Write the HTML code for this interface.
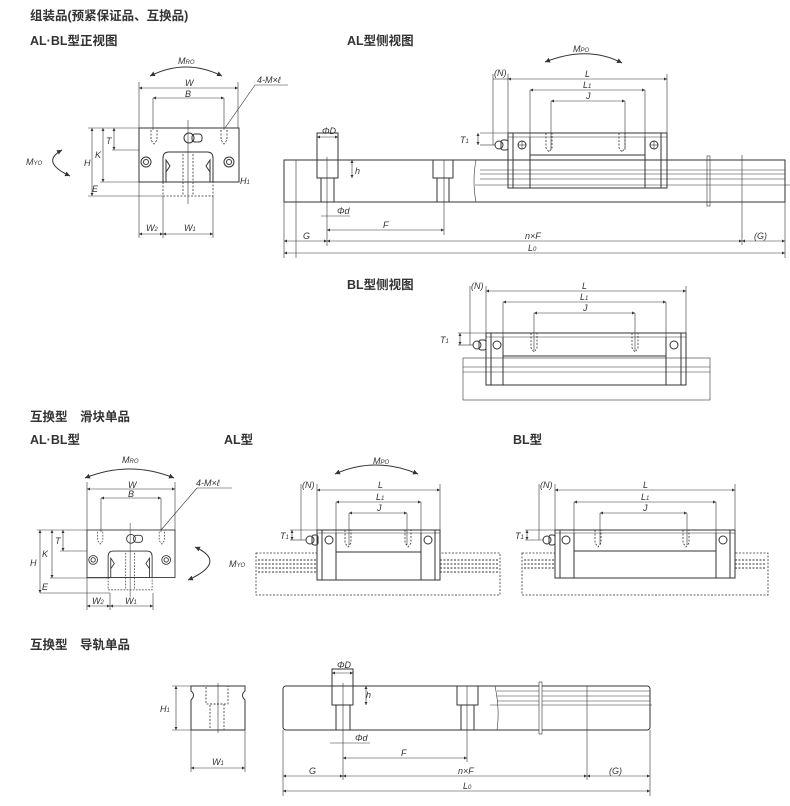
<!DOCTYPE html>
<html><head><meta charset="utf-8"><style>
html,body{margin:0;padding:0;background:#fff;width:790px;height:806px;overflow:hidden}
svg{display:block}
.t{font-family:"Liberation Sans","Noto Sans CJK SC",sans-serif;fill:#333}
.h{font-size:12.5px;font-weight:bold}
.l{font-size:9px;font-style:italic}
line,path,rect,circle,polyline{stroke:#333;fill:none;stroke-width:1}
.th{stroke-width:0.6}
.d{stroke-dasharray:2 1.5;stroke-width:0.8}
</style></head><body>
<svg width="790" height="806" viewBox="0 0 790 806" xmlns="http://www.w3.org/2000/svg">
<defs>
<marker id="a" viewBox="0 0 6 6" refX="6" refY="3" markerWidth="5" markerHeight="5" orient="auto-start-reverse"><path d="M0,0L6,3L0,6z" style="fill:#333;stroke:none"/></marker>
<g id="front">
 <rect x="0" y="0" width="100" height="54"/>
 <path d="M24,54 V30 Q24,24 30,24 H68 Q74,24 74,30 V54"/>
 <path d="M27,54 V32 L31,38 L27,44 M71,54 V32 L67,38 L71,44"/>
 <rect x="24" y="54" width="50" height="14" class="d"/>
 <line x1="44" y1="26" x2="44" y2="68" class="d"/><line x1="54" y1="26" x2="54" y2="68" class="d"/>
 <line x1="49" y1="-8" x2="49" y2="76" class="th"/>
 <circle cx="7" cy="34" r="5"/><circle cx="7" cy="34" r="2.5"/>
 <circle cx="90" cy="34" r="5"/><circle cx="90" cy="34" r="2.5"/>
 <circle cx="50" cy="10" r="5"/><rect x="53" y="6" width="10" height="8" rx="3"/>
 <path d="M12,2 V12 L15,16 L18,12 V2 M82,2 V12 L85,16 L88,12 V2" class="d"/>
</g>
<g id="blk">
 <rect x="0" y="0" width="100" height="55"/>
</g>
</defs>

<!-- headings -->
<text class="t h" x="30" y="20">组装品(预紧保证品、互换品)</text>
<text class="t h" x="30" y="45">AL·BL型正视图</text>
<text class="t h" x="347" y="45">AL型侧视图</text>
<text class="t h" x="347" y="289">BL型侧视图</text>
<text class="t h" x="30" y="421">互换型　滑块单品</text>
<text class="t h" x="30" y="444">AL·BL型</text>
<text class="t h" x="224" y="444">AL型</text>
<text class="t h" x="513" y="444">BL型</text>
<text class="t h" x="30" y="649">互换型　导轨单品</text>

<!-- ===== Front view 1 ===== -->
<use href="#front" x="139" y="128"/>
<path d="M150,76 Q186,58 222,76" marker-start="url(#a)" marker-end="url(#a)"/>
<text class="t l" x="178" y="64">M<tspan font-size="6">RO</tspan></text>
<line x1="139" y1="82" x2="139" y2="128" class="th"/><line x1="238" y1="82" x2="238" y2="128" class="th"/>
<line x1="139" y1="88" x2="238" y2="88" class="th" marker-start="url(#a)" marker-end="url(#a)"/>
<text class="t l" x="185" y="86">W</text>
<line x1="153" y1="98" x2="224" y2="98" class="th" marker-start="url(#a)" marker-end="url(#a)"/>
<line x1="153" y1="98" x2="153" y2="130" class="th"/><line x1="224" y1="98" x2="224" y2="130" class="th"/>
<text class="t l" x="185" y="97">B</text>
<line x1="225" y1="128" x2="255" y2="85" class="th"/><line x1="255" y1="85" x2="288" y2="85" class="th"/>
<text class="t l" x="257" y="83">4-M×ℓ</text>
<line x1="88" y1="128" x2="139" y2="128" class="th"/><line x1="88" y1="196" x2="163" y2="196" class="th"/>
<line x1="100" y1="182" x2="163" y2="182" class="th"/><line x1="112" y1="150" x2="139" y2="150" class="th"/>
<line x1="92" y1="128" x2="92" y2="196" class="th" marker-start="url(#a)" marker-end="url(#a)"/>
<line x1="103" y1="128" x2="103" y2="182" class="th" marker-start="url(#a)" marker-end="url(#a)"/>
<line x1="114" y1="128" x2="114" y2="150" class="th" marker-start="url(#a)" marker-end="url(#a)"/>
<text class="t l" x="84" y="166">H</text><text class="t l" x="95" y="158">K</text><text class="t l" x="106" y="144">T</text><text class="t l" x="92" y="192">E</text>
<text class="t l" x="240" y="184">H<tspan font-size="6">1</tspan></text>
<path d="M62,150 Q40,162 70,176" marker-start="url(#a)" marker-end="url(#a)"/>
<text class="t l" x="26" y="165">M<tspan font-size="6">YO</tspan></text>
<line x1="139" y1="182" x2="139" y2="238" class="th"/><line x1="163" y1="196" x2="163" y2="238" class="th"/><line x1="213" y1="196" x2="213" y2="238" class="th"/>
<line x1="139" y1="234" x2="163" y2="234" class="th" marker-start="url(#a)" marker-end="url(#a)"/>
<line x1="163" y1="234" x2="213" y2="234" class="th" marker-start="url(#a)" marker-end="url(#a)"/>
<text class="t l" x="146" y="231">W<tspan font-size="6">2</tspan></text><text class="t l" x="184" y="231">W<tspan font-size="6">1</tspan></text>

<!-- ===== AL side view (assembled) ===== -->
<rect x="284" y="160" width="501" height="42"/>
<line x1="480" y1="170" x2="785" y2="170" class="th"/><line x1="480" y1="174" x2="785" y2="174" class="th"/><line x1="480" y1="179" x2="785" y2="179" class="th"/>
<line x1="475" y1="185" x2="790" y2="185" class="th"/>
<path d="M476,160 Q472,181 476,202" class="th"/>
<line x1="296" y1="160" x2="296" y2="258" class="th"/>
<rect x="317" y="133" width="21" height="45"/><line x1="321" y1="178" x2="321" y2="202"/><line x1="334" y1="178" x2="334" y2="202"/>
<line x1="327" y1="157" x2="327" y2="246" class="th"/>
<rect x="433" y="160" width="20" height="18"/><line x1="437" y1="178" x2="437" y2="202"/><line x1="449" y1="178" x2="449" y2="202"/>
<line x1="444" y1="160" x2="444" y2="235" class="th"/>
<line x1="317" y1="137" x2="338" y2="137" class="th" marker-start="url(#a)" marker-end="url(#a)"/><text class="t l" x="322" y="134">ΦD</text>
<line x1="352" y1="160" x2="352" y2="178" class="th" marker-start="url(#a)" marker-end="url(#a)"/><text class="t l" x="355" y="174">h</text>
<line x1="321" y1="216" x2="350" y2="216" class="th"/><text class="t l" x="337" y="214">Φd</text>
<line x1="327" y1="230" x2="444" y2="230" class="th" marker-start="url(#a)" marker-end="url(#a)"/><text class="t l" x="383" y="228">F</text>
<line x1="284" y1="241" x2="327" y2="241" class="th" marker-start="url(#a)" marker-end="url(#a)"/><text class="t l" x="303" y="239">G</text>
<line x1="327" y1="241" x2="742" y2="241" class="th" marker-start="url(#a)" marker-end="url(#a)"/><text class="t l" x="525" y="239">n×F</text>
<line x1="742" y1="241" x2="785" y2="241" class="th" marker-start="url(#a)" marker-end="url(#a)"/><text class="t l" x="754" y="239">(G)</text>
<line x1="742" y1="155" x2="742" y2="245" class="th"/><line x1="785" y1="160" x2="785" y2="258" class="th"/><line x1="284" y1="202" x2="284" y2="258" class="th"/>
<line x1="284" y1="253" x2="785" y2="253" class="th" marker-start="url(#a)" marker-end="url(#a)"/><text class="t l" x="528" y="251">L<tspan font-size="6">0</tspan></text>
<rect x="707" y="156" width="3" height="50" class="th"/>
<!-- block -->
<rect x="508" y="133" width="159" height="55"/>
<line x1="513" y1="133" x2="513" y2="188"/><line x1="530" y1="137" x2="530" y2="188"/><line x1="645" y1="137" x2="645" y2="188"/><line x1="661" y1="133" x2="661" y2="188"/>
<line x1="508" y1="137" x2="667" y2="137" class="th"/><line x1="530" y1="155" x2="645" y2="155"/>
<circle cx="522" cy="145" r="4"/><line x1="518" y1="145" x2="526" y2="145" class="th"/><line x1="522" y1="141" x2="522" y2="149" class="th"/>
<circle cx="654" cy="145" r="4"/><line x1="650" y1="145" x2="658" y2="145" class="th"/><line x1="654" y1="141" x2="654" y2="149" class="th"/>
<path d="M546,133 V148 L549,152 L552,148 V133 M619,133 V148 L622,152 L625,148 V133" class="d"/>
<circle cx="499" cy="145" r="4"/><rect x="501" y="140" width="7" height="10" rx="2"/>
<line x1="493" y1="74" x2="493" y2="145" class="th"/><line x1="508" y1="74" x2="508" y2="133" class="th"/><line x1="667" y1="74" x2="667" y2="133" class="th"/>
<line x1="493" y1="79" x2="508" y2="79" class="th"/><text class="t l" x="494" y="76">(N)</text>
<line x1="508" y1="79" x2="667" y2="79" class="th" marker-start="url(#a)" marker-end="url(#a)"/><text class="t l" x="585" y="77">L</text>
<line x1="530" y1="90" x2="645" y2="90" class="th" marker-start="url(#a)" marker-end="url(#a)"/><line x1="530" y1="90" x2="530" y2="137" class="th"/><line x1="645" y1="90" x2="645" y2="137" class="th"/><text class="t l" x="583" y="88">L<tspan font-size="6">1</tspan></text>
<line x1="551" y1="101" x2="625" y2="101" class="th" marker-start="url(#a)" marker-end="url(#a)"/><line x1="551" y1="101" x2="551" y2="150" class="th"/><line x1="625" y1="101" x2="625" y2="150" class="th"/><text class="t l" x="586" y="99">J</text>
<line x1="480" y1="133" x2="508" y2="133" class="th"/><line x1="480" y1="145" x2="495" y2="145" class="th"/>
<line x1="478" y1="133" x2="478" y2="145" class="th" marker-start="url(#a)" marker-end="url(#a)"/><text class="t l" x="460" y="143">T<tspan font-size="6">1</tspan></text>
<path d="M545,62 Q588,45 622,63" marker-start="url(#a)" marker-end="url(#a)"/><text class="t l" x="573" y="52">M<tspan font-size="6">PO</tspan></text>

<!-- ===== BL side view ===== -->
<rect x="463" y="358" width="247" height="42" class="th"/>
<line x1="463" y1="367" x2="710" y2="367" class="th"/><line x1="463" y1="372" x2="710" y2="372" class="th"/>
<rect x="486" y="333" width="200" height="52"/>
<line x1="491" y1="333" x2="491" y2="385"/><line x1="503" y1="337" x2="503" y2="385"/><line x1="666" y1="337" x2="666" y2="385"/><line x1="681" y1="333" x2="681" y2="385"/>
<line x1="486" y1="337" x2="686" y2="337" class="th"/><line x1="503" y1="356" x2="666" y2="356"/>
<circle cx="497" cy="345" r="4"/><circle cx="674" cy="345" r="4"/>
<path d="M531,333 V348 L534,352 L537,348 V333 M632,333 V348 L635,352 L638,348 V333" class="d"/>
<circle cx="477" cy="345" r="4"/><rect x="479" y="340" width="7" height="10" rx="2"/>
<line x1="470" y1="286" x2="470" y2="345" class="th"/><line x1="486" y1="286" x2="486" y2="333" class="th"/><line x1="686" y1="286" x2="686" y2="333" class="th"/>
<text class="t l" x="471" y="289">(N)</text>
<line x1="486" y1="291" x2="686" y2="291" class="th" marker-start="url(#a)" marker-end="url(#a)"/><text class="t l" x="582" y="289">L</text>
<line x1="503" y1="302" x2="666" y2="302" class="th" marker-start="url(#a)" marker-end="url(#a)"/><line x1="503" y1="302" x2="503" y2="337" class="th"/><line x1="666" y1="302" x2="666" y2="337" class="th"/><text class="t l" x="580" y="300">L<tspan font-size="6">1</tspan></text>
<line x1="534" y1="313" x2="635" y2="313" class="th" marker-start="url(#a)" marker-end="url(#a)"/><line x1="534" y1="313" x2="534" y2="350" class="th"/><line x1="635" y1="313" x2="635" y2="350" class="th"/><text class="t l" x="583" y="311">J</text>
<line x1="458" y1="333" x2="486" y2="333" class="th"/><line x1="458" y1="345" x2="473" y2="345" class="th"/>
<line x1="460" y1="333" x2="460" y2="345" class="th" marker-start="url(#a)" marker-end="url(#a)"/><text class="t l" x="440" y="343">T<tspan font-size="6">1</tspan></text>

<!-- ===== Front view 2 ===== -->
<use href="#front" x="87" y="530" transform="translate(87,530) scale(0.88) translate(-87,-530)"/>
<path d="M85,478 Q130,460 174,478" marker-start="url(#a)" marker-end="url(#a)"/><text class="t l" x="122" y="463">M<tspan font-size="6">RO</tspan></text>
<line x1="87" y1="482" x2="87" y2="530" class="th"/><line x1="175" y1="482" x2="175" y2="530" class="th"/>
<line x1="87" y1="489" x2="175" y2="489" class="th" marker-start="url(#a)" marker-end="url(#a)"/><text class="t l" x="128" y="488">W</text>
<line x1="101" y1="498" x2="161" y2="498" class="th" marker-start="url(#a)" marker-end="url(#a)"/><line x1="101" y1="498" x2="101" y2="532" class="th"/><line x1="161" y1="498" x2="161" y2="532" class="th"/><text class="t l" x="128" y="497">B</text>
<line x1="161" y1="530" x2="197" y2="488" class="th"/><line x1="197" y1="488" x2="232" y2="488" class="th"/><text class="t l" x="196" y="486">4-M×ℓ</text>
<line x1="37" y1="530" x2="87" y2="530" class="th"/><line x1="40" y1="593" x2="110" y2="593" class="th"/><line x1="50" y1="578" x2="110" y2="578" class="th"/><line x1="60" y1="551" x2="87" y2="551" class="th"/>
<line x1="40" y1="530" x2="40" y2="593" class="th" marker-start="url(#a)" marker-end="url(#a)"/>
<line x1="52" y1="530" x2="52" y2="578" class="th" marker-start="url(#a)" marker-end="url(#a)"/>
<line x1="63" y1="530" x2="63" y2="551" class="th" marker-start="url(#a)" marker-end="url(#a)"/>
<text class="t l" x="30" y="566">H</text><text class="t l" x="42" y="557">K</text><text class="t l" x="55" y="544">T</text><text class="t l" x="42" y="590">E</text>
<path d="M195,547 Q228,562 188,580" marker-start="url(#a)" marker-end="url(#a)"/><text class="t l" x="229" y="567">M<tspan font-size="6">YO</tspan></text>
<line x1="87" y1="578" x2="87" y2="610" class="th"/><line x1="110" y1="593" x2="110" y2="610" class="th"/><line x1="153" y1="593" x2="153" y2="610" class="th"/>
<line x1="87" y1="606" x2="110" y2="606" class="th" marker-start="url(#a)" marker-end="url(#a)"/><line x1="110" y1="606" x2="153" y2="606" class="th" marker-start="url(#a)" marker-end="url(#a)"/>
<text class="t l" x="92" y="604">W<tspan font-size="6">2</tspan></text><text class="t l" x="125" y="604">W<tspan font-size="6">1</tspan></text>

<!-- ===== AL block single ===== -->
<rect x="256" y="553" width="244" height="42" class="d"/>
<g class="d"><line x1="258" y1="560" x2="317" y2="560"/><line x1="258" y1="564" x2="317" y2="564"/><line x1="258" y1="568" x2="317" y2="568"/><line x1="258" y1="572" x2="317" y2="572"/><line x1="440" y1="560" x2="498" y2="560"/><line x1="440" y1="564" x2="498" y2="564"/><line x1="440" y1="568" x2="498" y2="568"/><line x1="440" y1="572" x2="498" y2="572"/></g>
<rect x="317" y="530" width="123" height="50" style="fill:#fff"/>
<line x1="322" y1="530" x2="322" y2="580"/><line x1="336" y1="533" x2="336" y2="580"/><line x1="421" y1="533" x2="421" y2="580"/><line x1="435" y1="530" x2="435" y2="580"/>
<line x1="317" y1="533" x2="440" y2="533" class="th"/><line x1="336" y1="552" x2="421" y2="552"/>
<circle cx="329" cy="540" r="4"/><circle cx="428" cy="540" r="4"/>
<path d="M345,530 V543 L348,547 L351,543 V530 M405,530 V543 L408,547 L411,543 V530" class="d"/>
<circle cx="310" cy="540" r="4"/><rect x="312" y="535" width="6" height="10" rx="2"/>
<line x1="301" y1="484" x2="301" y2="540" class="th"/><line x1="317" y1="484" x2="317" y2="530" class="th"/><line x1="440" y1="484" x2="440" y2="530" class="th"/>
<text class="t l" x="302" y="488">(N)</text>
<line x1="317" y1="490" x2="440" y2="490" class="th" marker-start="url(#a)" marker-end="url(#a)"/><text class="t l" x="378" y="488">L</text>
<line x1="336" y1="502" x2="421" y2="502" class="th" marker-start="url(#a)" marker-end="url(#a)"/><line x1="336" y1="502" x2="336" y2="533" class="th"/><line x1="421" y1="502" x2="421" y2="533" class="th"/><text class="t l" x="376" y="500">L<tspan font-size="6">1</tspan></text>
<line x1="349" y1="513" x2="407" y2="513" class="th" marker-start="url(#a)" marker-end="url(#a)"/><line x1="349" y1="513" x2="349" y2="545" class="th"/><line x1="407" y1="513" x2="407" y2="545" class="th"/><text class="t l" x="377" y="511">J</text>
<line x1="290" y1="530" x2="317" y2="530" class="th"/><line x1="290" y1="540" x2="306" y2="540" class="th"/>
<line x1="292" y1="530" x2="292" y2="540" class="th" marker-start="url(#a)" marker-end="url(#a)"/><text class="t l" x="280" y="539">T<tspan font-size="6">1</tspan></text>
<path d="M335,474 Q375,456 418,474" marker-start="url(#a)" marker-end="url(#a)"/><text class="t l" x="373" y="464">M<tspan font-size="6">PO</tspan></text>

<!-- ===== BL block single ===== -->
<rect x="522" y="553" width="246" height="42" class="d"/>
<g class="d"><line x1="524" y1="560" x2="555" y2="560"/><line x1="524" y1="564" x2="555" y2="564"/><line x1="524" y1="568" x2="555" y2="568"/><line x1="735" y1="560" x2="766" y2="560"/><line x1="735" y1="564" x2="766" y2="564"/><line x1="735" y1="568" x2="766" y2="568"/></g>
<rect x="555" y="530" width="180" height="48" style="fill:#fff"/>
<line x1="560" y1="530" x2="560" y2="578"/><line x1="574" y1="533" x2="574" y2="578"/><line x1="716" y1="533" x2="716" y2="578"/><line x1="730" y1="530" x2="730" y2="578"/>
<line x1="555" y1="533" x2="735" y2="533" class="th"/><line x1="574" y1="551" x2="716" y2="551"/>
<circle cx="566" cy="540" r="4"/><circle cx="723" cy="540" r="4"/>
<path d="M595,530 V543 L598,547 L601,543 V530 M683,530 V543 L686,547 L689,543 V530" class="d"/>
<circle cx="547" cy="540" r="4"/><rect x="549" y="535" width="6" height="10" rx="2"/>
<line x1="539" y1="484" x2="539" y2="540" class="th"/><line x1="555" y1="484" x2="555" y2="530" class="th"/><line x1="735" y1="484" x2="735" y2="530" class="th"/>
<text class="t l" x="540" y="488">(N)</text>
<line x1="555" y1="490" x2="735" y2="490" class="th" marker-start="url(#a)" marker-end="url(#a)"/><text class="t l" x="643" y="488">L</text>
<line x1="574" y1="502" x2="716" y2="502" class="th" marker-start="url(#a)" marker-end="url(#a)"/><line x1="574" y1="502" x2="574" y2="533" class="th"/><line x1="716" y1="502" x2="716" y2="533" class="th"/><text class="t l" x="641" y="500">L<tspan font-size="6">1</tspan></text>
<line x1="600" y1="513" x2="687" y2="513" class="th" marker-start="url(#a)" marker-end="url(#a)"/><line x1="600" y1="513" x2="600" y2="545" class="th"/><line x1="687" y1="513" x2="687" y2="545" class="th"/><text class="t l" x="643" y="511">J</text>
<line x1="525" y1="530" x2="555" y2="530" class="th"/><line x1="525" y1="540" x2="543" y2="540" class="th"/>
<line x1="527" y1="530" x2="527" y2="540" class="th" marker-start="url(#a)" marker-end="url(#a)"/><text class="t l" x="515" y="539">T<tspan font-size="6">1</tspan></text>

<!-- ===== Rail single ===== -->
<path d="M191,686 H245 V691 Q240,695 245,700 V730 H191 V700 Q196,695 191,691 Z"/>
<line x1="218" y1="683" x2="218" y2="733" class="th"/>
<rect x="206" y="686" width="22" height="18" class="d"/><rect x="210" y="704" width="14" height="26" class="d"/>
<line x1="172" y1="686" x2="191" y2="686" class="th"/><line x1="172" y1="730" x2="191" y2="730" class="th"/>
<line x1="176" y1="686" x2="176" y2="730" class="th" marker-start="url(#a)" marker-end="url(#a)"/><text class="t l" x="160" y="712">H<tspan font-size="6">1</tspan></text>
<line x1="191" y1="730" x2="191" y2="772" class="th"/><line x1="245" y1="730" x2="245" y2="772" class="th"/>
<line x1="191" y1="768" x2="245" y2="768" class="th" marker-start="url(#a)" marker-end="url(#a)"/><text class="t l" x="212" y="765">W<tspan font-size="6">1</tspan></text>

<rect x="283" y="686" width="367" height="44" rx="3"/>
<rect x="332" y="669" width="21" height="36"/><line x1="336" y1="705" x2="336" y2="730"/><line x1="350" y1="705" x2="350" y2="730"/>
<line x1="343" y1="683" x2="343" y2="780" class="th"/>
<rect x="457" y="686" width="21" height="19"/><line x1="461" y1="705" x2="461" y2="730"/><line x1="474" y1="705" x2="474" y2="730"/>
<line x1="467" y1="686" x2="467" y2="762" class="th"/>
<line x1="497" y1="691" x2="650" y2="691" class="th"/><line x1="497" y1="696" x2="650" y2="696" class="th"/><line x1="497" y1="701" x2="650" y2="701" class="th"/><line x1="490" y1="705" x2="652" y2="705" class="th"/>
<path d="M495,686 Q500,710 497,730" class="th"/>
<rect x="539" y="682" width="3" height="52" class="th" style="fill:#fff"/>
<line x1="332" y1="673" x2="353" y2="673" class="th" marker-start="url(#a)" marker-end="url(#a)"/><text class="t l" x="337" y="668">ΦD</text>
<line x1="366" y1="686" x2="366" y2="705" class="th" marker-start="url(#a)" marker-end="url(#a)"/><text class="t l" x="366" y="698">h</text>
<line x1="330" y1="743" x2="370" y2="743" class="th"/><text class="t l" x="355" y="741">Φd</text>
<line x1="343" y1="758" x2="467" y2="758" class="th" marker-start="url(#a)" marker-end="url(#a)"/><text class="t l" x="401" y="756">F</text>
<line x1="283" y1="730" x2="283" y2="796" class="th"/><line x1="650" y1="730" x2="650" y2="796" class="th"/><line x1="587" y1="686" x2="587" y2="780" class="th"/>
<line x1="283" y1="776" x2="343" y2="776" class="th" marker-start="url(#a)" marker-end="url(#a)"/><text class="t l" x="309" y="774">G</text>
<line x1="343" y1="776" x2="587" y2="776" class="th" marker-start="url(#a)" marker-end="url(#a)"/><text class="t l" x="458" y="774">n×F</text>
<line x1="587" y1="776" x2="650" y2="776" class="th" marker-start="url(#a)" marker-end="url(#a)"/><text class="t l" x="609" y="774">(G)</text>
<line x1="283" y1="791" x2="650" y2="791" class="th" marker-start="url(#a)" marker-end="url(#a)"/><text class="t l" x="463" y="789">L<tspan font-size="6">0</tspan></text>
</svg>
</body></html>
